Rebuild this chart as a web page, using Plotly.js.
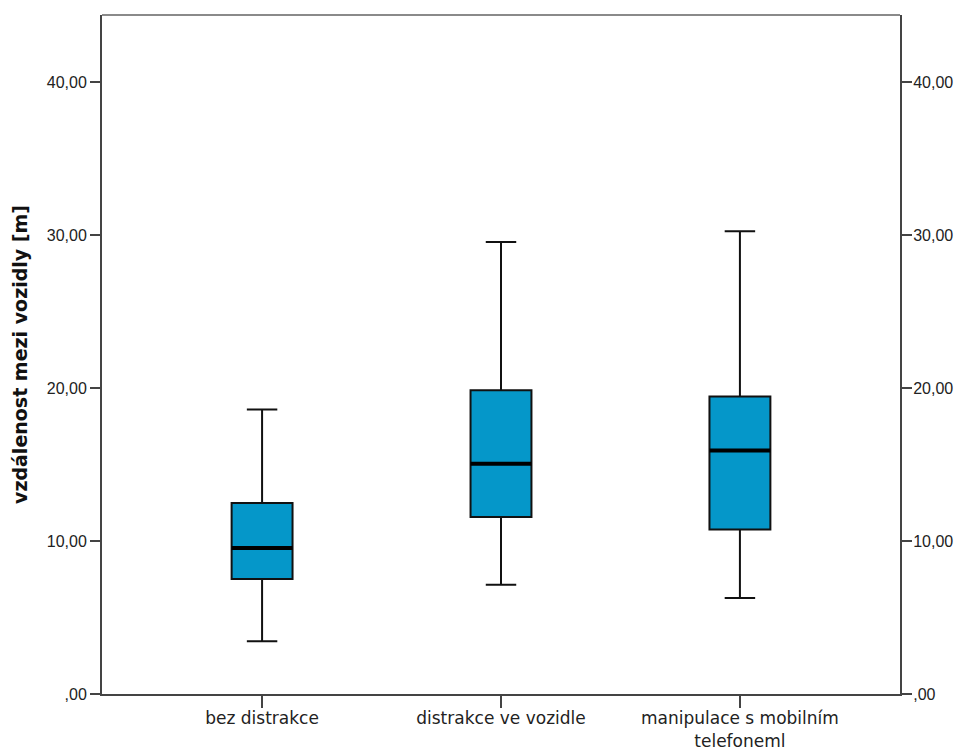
<!DOCTYPE html>
<html>
<head>
<meta charset="utf-8">
<script src="https://cdn.plot.ly/plotly-3.0.1.min.js"></script>
<style>
  html, body { margin: 0; padding: 0; background: #fff; }
  #chart { width: 956px; height: 753px; }
</style>
</head>
<body>
<div id="chart"></div>
<script>
// Groups and five-number summaries (metres)
const groups = ['bez distrakce', 'distrakce ve vozidle', 'manipulace s mobilním<br>telefoneml'];
const lowerWhisker = [3.45, 7.15, 6.28];
const q1 = [7.52, 11.58, 10.75];
const median = [9.55, 15.06, 15.93];
const q3 = [12.49, 19.86, 19.46];
const upperWhisker = [18.6, 29.56, 30.26];

// Axis ticks
const yTickVals = [0, 10, 20, 30, 40];
const yTickText = [',00', '10,00', '20,00', '30,00', '40,00'];

const boxFill = '#0597c9';
const tickFont = { family: 'Liberation Sans, Arial, sans-serif', size: 16, color: '#222' };

const boxes = {
  type: 'box',
  x: groups,
  q1: q1,
  median: median,
  q3: q3,
  lowerfence: lowerWhisker,
  upperfence: upperWhisker,
  width: 0.255,
  whiskerwidth: 0.5,
  fillcolor: boxFill,
  line: { color: '#111', width: 2 },
  hoverinfo: 'skip',
  showlegend: false
};

// Heavy median bar drawn on top of each box (on the mirrored right axis)
const medians = {
  type: 'box',
  x: groups,
  yaxis: 'y2',
  q1: median,
  median: median,
  q3: median,
  lowerfence: median,
  upperfence: median,
  width: 0.255,
  whiskerwidth: 0,
  fillcolor: 'rgba(0,0,0,0)',
  line: { color: '#000', width: 4 },
  hoverinfo: 'skip',
  showlegend: false
};

const yCommon = {
  range: [0, 44.4],
  tickvals: yTickVals,
  ticktext: yTickText,
  ticks: 'outside',
  ticklen: 10,
  tickwidth: 2,
  tickcolor: '#444',
  showline: true,
  linecolor: '#444',
  linewidth: 2,
  showgrid: false,
  zeroline: false,
  tickfont: tickFont,
  fixedrange: true
};

const layout = {
  width: 956,
  height: 753,
  margin: { l: 102, r: 56, t: 15, b: 59 },
  paper_bgcolor: '#fff',
  plot_bgcolor: '#fff',
  boxmode: 'overlay',
  showlegend: false,
  xaxis: {
    type: 'category',
    range: [-0.67, 2.67],
    ticks: 'outside',
    ticklen: 12,
    tickwidth: 2,
    tickcolor: '#444',
    showline: true,
    linecolor: '#444',
    linewidth: 2,
    showgrid: false,
    zeroline: false,
    ticklabelstandoff: -4,
    tickfont: { family: 'DejaVu Sans', size: 17, color: '#222' },
    fixedrange: true
  },
  yaxis: Object.assign({}, yCommon, {
    side: 'left',
    title: {
      text: 'vzdálenost mezi vozidly [m]',
      font: { family: 'DejaVu Sans', size: 19, color: '#111', weight: 'bold' },
      standoff: 14
    }
  }),
  yaxis2: Object.assign({}, yCommon, {
    side: 'right',
    overlaying: 'y',
    matches: 'y',
    ticklabelstandoff: -2
  }),
  shapes: [
    // light frame line along the top of the plot area
    { type: 'line', xref: 'paper', yref: 'paper', x0: 0, x1: 1, y0: 1, y1: 1,
      line: { color: '#8a8a8a', width: 2 } }
  ]
};

Plotly.newPlot('chart', [boxes, medians], layout, { displayModeBar: false, staticPlot: true });
</script>
</body>
</html>
